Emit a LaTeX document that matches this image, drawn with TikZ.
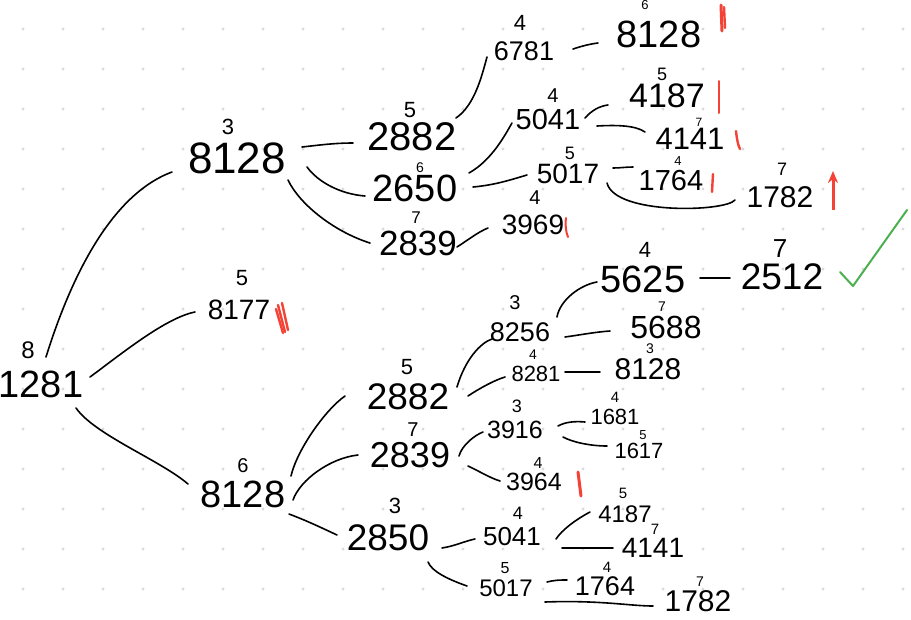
\documentclass[tikz,border=0pt]{standalone}
\usepackage{fontspec}
\setmainfont{Liberation Sans}
\usetikzlibrary{arrows.meta}
\definecolor{markred}{RGB}{244,67,54}
\definecolor{checkgreen}{RGB}{76,175,80}
\definecolor{griddot}{RGB}{218,218,218}
\tikzset{
  num/.style={inner sep=0pt, font=\fontsize{#1}{#1}\selectfont},
  sup/.style={inner sep=0pt, font=\fontsize{#1}{#1}\selectfont},
  ln/.style={line width=1.6pt, line cap=round, line join=round},
  redmark/.style={draw=markred, line width=2.4pt, line cap=round},
}
\begin{document}
\begin{tikzpicture}[x=1pt,y=-1pt]
\fill[white] (0,0) rectangle (911,619);
\useasboundingbox (0,0) rectangle (911,619);
\foreach \i in {0,...,22} \foreach \j in {0,...,14}
  \fill[griddot] ({23+40*\i},{29+40*\j}) circle[radius=1.6];

% ---------- nodes ----------
\node[num=38] (r) at (41,384) {1281};
\node[sup=24] (rs) at (28,350) {8};

\node[num=44] (A) at (237,158) {8128};
\node[sup=22] (As) at (228,127) {3};
\node[num=28] (B) at (239,310) {8177};
\node[sup=22] (Bs) at (242,278) {5};
\node[num=38] (C) at (243,494) {8128};
\node[sup=20] (Cs) at (243,466) {6};

\node[num=40] (A1) at (412,137) {2882};
\node[sup=22] (A1s) at (410,110) {5};
\node[num=38] (A2) at (415,188) {2650};
\node[sup=14] (A2s) at (420,168) {6};
\node[num=35] (A3) at (418,243) {2839};
\node[sup=17] (A3s) at (416,218) {7};

\node[num=27] (A11) at (524,51) {6781};
\node[sup=22] (A11s) at (520,23) {4};
\node[num=38] (A111) at (659,34) {8128};
\node[sup=13] (A111s) at (645,5) {6};

\node[num=29] (A21) at (548,120) {5041};
\node[sup=20] (A21s) at (553,96) {4};
\node[num=28] (A22) at (568,174) {5017};
\node[sup=18] (A22s) at (570,153) {5};
\node[num=28] (A31) at (533,225) {3969};
\node[sup=20] (A31s) at (535,198) {4};

\node[num=34] (A211) at (667,96) {4187};
\node[sup=18] (A211s) at (662,74) {5};
\node[num=31] (A212) at (690,139) {4141};
\node[sup=12] (A212s) at (699,122) {7};
\node[num=29] (A221) at (671,181) {1764};
\node[sup=13] (A221s) at (678,161) {4};
\node[num=30] (A222) at (780,197) {1782};
\node[sup=18] (A222s) at (782,169) {7};

\node[num=37] (C1) at (408,397) {2882};
\node[sup=22] (C1s) at (407,367) {5};
\node[num=36] (C2) at (410,455) {2839};
\node[sup=20] (C2s) at (413,430) {7};
\node[num=37] (C3) at (388,538) {2850};
\node[sup=22] (C3s) at (395,506) {3};

\node[num=27] (C11) at (520,332) {8256};
\node[sup=20] (C11s) at (515,303) {3};
\node[num=22] (C12) at (536,374) {8281};
\node[sup=14] (C12s) at (533,355) {4};

\node[num=38] (C111) at (643,279) {5625};
\node[sup=22] (C111s) at (645,250) {4};
\node[num=37] (C1111) at (782,277) {2512};
\node[sup=26] (C1111s) at (780,249) {7};
\node[num=32] (C112) at (666,327) {5688};
\node[sup=14] (C112s) at (662,307) {7};
\node[num=30] (C121) at (648,369) {8128};
\node[sup=14] (C121s) at (650,349) {3};

\node[num=25] (C21) at (515,430) {3916};
\node[sup=18] (C21s) at (517,406) {3};
\node[num=25] (C22) at (534,482) {3964};
\node[sup=16] (C22s) at (538,463) {4};
\node[num=22] (C211) at (615,417) {1681};
\node[sup=15] (C211s) at (615,397) {4};
\node[num=22] (C212) at (639,451) {1617};
\node[sup=13] (C212s) at (643,435) {5};

\node[num=26] (C31) at (512,537) {5041};
\node[sup=18] (C31s) at (518,513) {4};
\node[num=24] (C32) at (506,588) {5017};
\node[sup=16] (C32s) at (505,568) {5};
\node[num=24] (C311) at (625,514) {4187};
\node[sup=15] (C311s) at (623,493) {5};
\node[num=28] (C312) at (653,548) {4141};
\node[sup=15] (C312s) at (655,529) {7};
\node[num=27] (C321) at (605,586) {1764};
\node[sup=15] (C321s) at (607,567) {4};
\node[num=30] (C322) at (698,601) {1782};
\node[sup=14] (C322s) at (700,582) {7};

% ---------- connectors ----------
\draw[ln] ([shift={(5,-27)}]r.center) .. controls (70,280) and (110,195) .. ([shift={(-65,14)}]A.center);
\draw[ln] ([shift={(49,-7)}]r.center) .. controls (120,355) and (165,318) .. ([shift={(-44,2)}]B.center);
\draw[ln] ([shift={(35,24)}]r.center) .. controls (95,435) and (160,460) .. ([shift={(-55,-10)}]C.center);

\draw[ln] ([shift={(65,-11)}]A.center) .. controls (320,145) and (335,143) .. ([shift={(-59,6)}]A1.center);
\draw[ln] ([shift={(70,9)}]A.center) .. controls (318,182) and (340,194) .. ([shift={(-50,8)}]A2.center);
\draw[ln] ([shift={(51,22)}]A.center) .. controls (300,205) and (335,232) .. ([shift={(-48,0)}]A3.center);

\draw[ln] ([shift={(44,-19)}]A1.center) .. controls (475,105) and (482,75) .. ([shift={(-37,6)}]A11.center);
\draw[ln] ([shift={(49,-2)}]A11.center) .. controls (582,46) and (590,44) .. ([shift={(-61,9)}]A111.center);
\draw[ln] ([shift={(54,-15)}]A2.center) .. controls (492,160) and (505,135) .. ([shift={(-36,3)}]A21.center);
\draw[ln] ([shift={(58,-1)}]A2.center) .. controls (495,185) and (510,180) .. ([shift={(-41,1)}]A22.center);
\draw[ln] ([shift={(39,4)}]A3.center) .. controls (468,240) and (478,232) .. ([shift={(-45,3)}]A31.center);

\draw[ln] ([shift={(37,-2)}]A21.center) .. controls (592,110) and (600,106) .. ([shift={(-59,9)}]A211.center);
\draw[ln] ([shift={(49,6)}]A21.center) .. controls (615,125) and (635,125) .. ([shift={(-45,-7)}]A212.center);
\draw[ln] ([shift={(45,-6)}]A22.center) .. controls (620,168) and (626,167) .. ([shift={(-38,-14)}]A221.center);
\draw[ln] ([shift={(39,9)}]A22.center) .. controls (615,215) and (725,212) .. ([shift={(-45,3)}]A222.center);

\draw[ln] ([shift={(48,-18)}]C.center) .. controls (297,450) and (325,410) .. ([shift={(-63,-1)}]C1.center);
\draw[ln] ([shift={(50,6)}]C.center) .. controls (300,480) and (330,458) .. ([shift={(-52,0)}]C2.center);
\draw[ln] ([shift={(46,20)}]C.center) .. controls (305,520) and (320,527) .. ([shift={(-51,-3)}]C3.center);

\draw[ln] ([shift={(49,-10)}]C1.center) .. controls (465,360) and (480,343) .. ([shift={(-28,7)}]C11.center);
\draw[ln] ([shift={(60,-1)}]C1.center) .. controls (480,388) and (495,380) .. ([shift={(-31,3)}]C12.center);
\draw[ln] ([shift={(37,-15)}]C11.center) .. controls (560,300) and (580,285) .. ([shift={(-46,3)}]C111.center);
\draw[ln] ([shift={(45,5)}]C11.center) .. controls (580,335) and (595,332) .. ([shift={(-56,4)}]C112.center);
\draw[ln] ([shift={(57,-1)}]C111.center) -- ([shift={(-52,1)}]C1111.center);
\draw[ln] ([shift={(29,-2)}]C12.center) -- ([shift={(-48,3)}]C121.center);

\draw[ln] ([shift={(49,1)}]C2.center) .. controls (462,445) and (475,435) .. ([shift={(-32,2)}]C21.center);
\draw[ln] ([shift={(58,11)}]C2.center) .. controls (477,470) and (490,478) .. ([shift={(-34,-1)}]C22.center);
\draw[ln] ([shift={(43,-4)}]C21.center) .. controls (565,422) and (575,421) .. ([shift={(-30,5)}]C211.center);
\draw[ln] ([shift={(48,7)}]C21.center) .. controls (572,442) and (590,446) .. ([shift={(-32,-5)}]C212.center);

\draw[ln] ([shift={(54,10)}]C3.center) .. controls (455,546) and (465,541) .. ([shift={(-37,2)}]C31.center);
\draw[ln] ([shift={(40,24)}]C3.center) .. controls (432,572) and (450,580) .. ([shift={(-39,-2)}]C32.center);
\draw[ln] ([shift={(44,2)}]C31.center) .. controls (562,530) and (575,520) .. ([shift={(-35,-2)}]C311.center);
\draw[ln] ([shift={(50,11)}]C31.center) -- ([shift={(-40,0)}]C312.center);
\draw[ln] ([shift={(41,-6)}]C32.center) .. controls (555,580) and (560,580) .. ([shift={(-38,-6)}]C321.center);
\draw[ln] ([shift={(39,14)}]C32.center) .. controls (600,600) and (630,606) .. ([shift={(-45,5)}]C322.center);

% ---------- red marks ----------
\draw[redmark] (278,305) -- (285,332);
\draw[redmark] (282,303) -- (288,330);
\draw[redmark] (276,309) -- (283,333);
\draw[redmark, line width=3pt] (721,5) -- (722,31);
\draw[redmark] (724,7) -- (725,28);
\draw[redmark, line width=2pt] (719,81) -- (719,113);
\draw[redmark] (736,131) .. controls (737,140) and (738,145) .. (740,149);
\draw[redmark] (713,174) -- (712,192);
\draw[redmark, line width=2pt] (566,218) .. controls (565,226) and (566,232) .. (568,237);
\draw[redmark, line width=3pt] (578,472) -- (581,496);
\draw[draw=markred, line width=3pt, -{Stealth[length=12pt,width=10pt]}] (833,210) -- (833,171);

% ---------- check mark ----------
\draw[checkgreen, line width=2pt, line cap=round, line join=round] (840,272) -- (853,286) -- (907,210);
\end{tikzpicture}
\end{document}
